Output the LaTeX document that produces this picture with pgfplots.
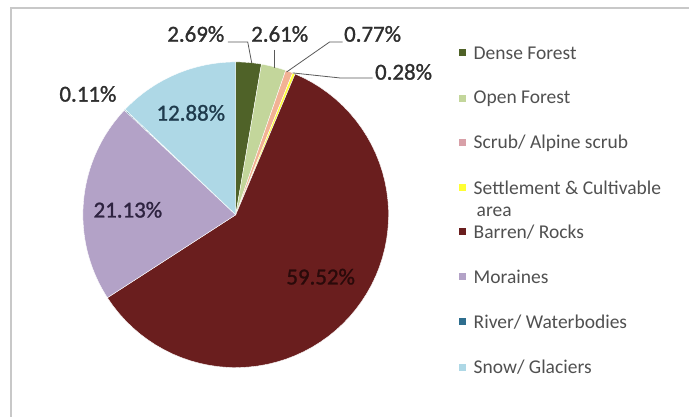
\documentclass[border=0pt]{standalone}
\usepackage{pgfplots}
\pgfplotsset{compat=1.18}
\usepackage{fontspec}
\setmainfont{Carlito}
\newfontfamily\labfont[FakeBold=1.2]{Carlito}
\definecolor{cDense}{HTML}{4F6228}
\definecolor{cOpen}{HTML}{C3D69B}
\definecolor{cScrub}{HTML}{F2B294}
\definecolor{cScrubL}{HTML}{D8A0A8}
\definecolor{cSettle}{HTML}{FFFF33}
\definecolor{cBarren}{HTML}{6A1E1E}
\definecolor{cMor}{HTML}{B3A2C7}
\definecolor{cRiver}{HTML}{2E6E8E}
\definecolor{cSnow}{HTML}{AED8E6}
\definecolor{frame}{HTML}{C8C8C8}
\definecolor{lab}{HTML}{2E2E2E}
\definecolor{leg}{HTML}{505050}
\definecolor{l1}{HTML}{1F3B4D}
\definecolor{l2}{HTML}{2E2340}
\definecolor{l3}{HTML}{2A0A0A}
% pie centre and radius (picture units)
\def\cx{236}\def\cy{215}\def\rr{153}
% \slice{start %}{end %}{colour}
\newcommand{\slice}[3]{%
  \addplot[fill=#3, draw=white, line width=0.4pt, domain=#1:#2, samples=60, variable=\t]
    ({\cx+\rr*cos(90-3.6*\t)}, {\cy-\rr*sin(90-3.6*\t)}) -- (\cx,\cy) -- cycle;}
\newcommand{\legfont}{\fontsize{19.6}{22}\selectfont}
\newcommand{\legitem}[3]{%
  \fill[#2] (459,#1-3.5) rectangle (466,#1+3.5);
  \node[anchor=west, text=leg, font=\legfont, inner sep=0pt] at (474,#1) {#3};}
\begin{document}
\begin{tikzpicture}
\begin{axis}[
  scale only axis, width=690bp, height=417bp,
  xmin=0, xmax=690, ymin=0, ymax=417, y dir=reverse,
  hide axis, clip=false,
]
% full picture area
\path (0,0) rectangle (690,417);
% frame
\draw[frame, line width=1.5pt] (11,417) -- (11,8) -- (690,8);
% slices: Dense 2.69, Open 2.61, Scrub 0.77, Settlement 0.28, Barren 59.52, Moraines 21.13, River 0.11, Snow 12.88
\slice{0}{2.69}{cDense}
\slice{2.69}{5.30}{cOpen}
\slice{5.30}{6.07}{cScrub}
\slice{6.07}{6.35}{cSettle}
\slice{6.35}{65.87}{cBarren}
\slice{65.87}{87.00}{cMor}
\slice{87.00}{87.11}{cRiver}
\slice{87.11}{100}{cSnow}
% leader lines
\draw[gray!70!black, line width=0.8pt] (228,42) -- (248,42) -- (252,63);
\draw[gray!70!black, line width=0.8pt] (275,50) -- (275,68);
\draw[gray!70!black, line width=0.8pt] (343,42) -- (330,42) -- (287,72);
\draw[gray!70!black, line width=0.8pt] (373,78) -- (340,78) -- (293,73);
% labels
\begin{scope}[every node/.style={font=\labfont\fontsize{23}{26}\selectfont, inner sep=0pt}]
\node[text=lab] at (196,34) {2.69\%};
\node[text=lab] at (280,34) {2.61\%};
\node[text=lab] at (373,34) {0.77\%};
\node[text=lab] at (404,72) {0.28\%};
\node[text=lab] at (88,94) {0.11\%};
\node[text=l1] at (191,113) {12.88\%};
\node[text=l2] at (128,210) {21.13\%};
\node[text=l3] at (321,277) {59.52\%};
\end{scope}
% legend
\legitem{53}{cDense}{Dense Forest}
\legitem{99}{cOpen}{Open Forest}
\legitem{143}{cScrubL}{Scrub/ Alpine scrub}
\legitem{188}{cSettle}{Settlement \& Cultivable}
\node[anchor=west, text=leg, font=\legfont, inner sep=0pt] at (477,212) {area};
\legitem{232}{cBarren}{Barren/ Rocks}
\legitem{277}{cMor}{Moraines}
\legitem{322}{cRiver}{River/ Waterbodies}
\legitem{368}{cSnow}{Snow/ Glaciers}
\end{axis}
\end{tikzpicture}
\end{document}
